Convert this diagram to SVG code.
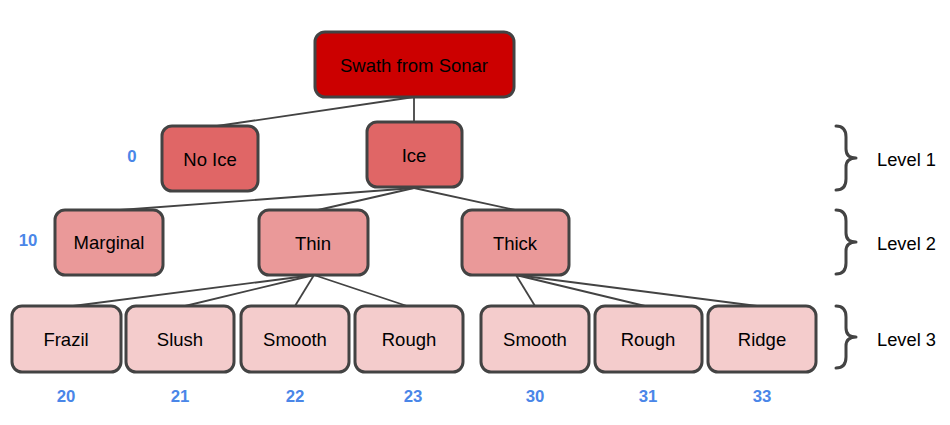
<svg xmlns="http://www.w3.org/2000/svg" width="950" height="425" viewBox="0 0 950 425">
<style>
.n rect{stroke:#434343;stroke-width:3}
.l0 rect{fill:#cc0000}
.l1 rect{fill:#e06666}
.l2 rect{fill:#ea9999}
.l3 rect{fill:#f4cccc}
text{font-family:"Liberation Sans",Arial,sans-serif;font-size:18.3px;fill:#000;text-anchor:middle;dominant-baseline:central}
.n text{font-size:18.5px}
.num{fill:#4a86e8;font-weight:bold;font-size:16.8px}
.lv{text-anchor:start}
#edges line{stroke:#434343;stroke-width:1.8}
.br{fill:none;stroke:#434343;stroke-width:3;stroke-linecap:round;stroke-linejoin:round}
</style>
<rect width="950" height="425" fill="#fff"/>
<g id="edges">
<line x1="414" y1="97" x2="414" y2="122"/>
<line x1="414" y1="97" x2="217" y2="126"/>
<line x1="414" y1="188" x2="120" y2="210"/>
<line x1="414" y1="188" x2="318" y2="210"/>
<line x1="414" y1="188" x2="515" y2="210"/>
<line x1="314" y1="275" x2="73" y2="306"/>
<line x1="314" y1="275" x2="185" y2="306"/>
<line x1="314" y1="275" x2="295" y2="306"/>
<line x1="314" y1="275" x2="407" y2="306"/>
<line x1="516" y1="275" x2="535" y2="306"/>
<line x1="516" y1="275" x2="645" y2="306"/>
<line x1="516" y1="275" x2="757" y2="306"/>
</g>
<g id="root" class="n l0"><rect x="315" y="32" width="199" height="65" rx="10"/><text x="414" y="65">Swath from Sonar</text></g>
<g id="noice" class="n l1"><rect x="162" y="126" width="96" height="65" rx="10"/><text x="210" y="159">No Ice</text></g>
<g id="ice" class="n l1"><rect x="367" y="122" width="95" height="65" rx="10"/><text x="414" y="155">Ice</text></g>
<g id="marginal" class="n l2"><rect x="55" y="210" width="108" height="65" rx="10"/><text x="109" y="242">Marginal</text></g>
<g id="thin" class="n l2"><rect x="259" y="210" width="109" height="65" rx="10"/><text x="313" y="243">Thin</text></g>
<g id="thick" class="n l2"><rect x="462" y="210" width="107" height="65" rx="10"/><text x="515" y="243">Thick</text></g>
<g id="frazil" class="n l3"><rect x="12" y="306" width="109" height="66" rx="10"/><text x="66" y="339">Frazil</text></g>
<g id="slush" class="n l3"><rect x="126" y="306" width="108" height="66" rx="10"/><text x="180" y="339">Slush</text></g>
<g id="smooth1" class="n l3"><rect x="241" y="306" width="108" height="66" rx="10"/><text x="295" y="339">Smooth</text></g>
<g id="rough1" class="n l3"><rect x="355" y="306" width="108" height="66" rx="10"/><text x="409" y="339">Rough</text></g>
<g id="smooth2" class="n l3"><rect x="481" y="306" width="108" height="66" rx="10"/><text x="535" y="339">Smooth</text></g>
<g id="rough2" class="n l3"><rect x="595" y="306" width="107" height="66" rx="10"/><text x="648" y="339">Rough</text></g>
<g id="ridge" class="n l3"><rect x="708" y="306" width="108" height="66" rx="10"/><text x="762" y="339">Ridge</text></g>
<g id="numbers">
<text class="num" x="132" y="156">0</text>
<text class="num" x="28" y="240">10</text>
<text class="num" x="66" y="396">20</text>
<text class="num" x="180" y="396">21</text>
<text class="num" x="295" y="396">22</text>
<text class="num" x="413" y="396">23</text>
<text class="num" x="535" y="396">30</text>
<text class="num" x="648" y="396">31</text>
<text class="num" x="762" y="396">33</text>
</g>
<g id="levels">
<path class="br" d="M836 126 Q846 126 846 137 L846 149 Q846 158 856 158 Q846 158 846 167 L846 179 Q846 190 836 190"/>
<text class="lv" x="877" y="159">Level 1</text>
<path class="br" d="M836 210 Q846 210 846 221 L846 233 Q846 242 856 242 Q846 242 846 251 L846 263 Q846 274 836 274"/>
<text class="lv" x="877" y="243">Level 2</text>
<path class="br" d="M836 306 Q846 306 846 317 L846 328 Q846 337 856 337 Q846 337 846 346 L846 357 Q846 368 836 368"/>
<text class="lv" x="877" y="339">Level 3</text>
</g>
</svg>
